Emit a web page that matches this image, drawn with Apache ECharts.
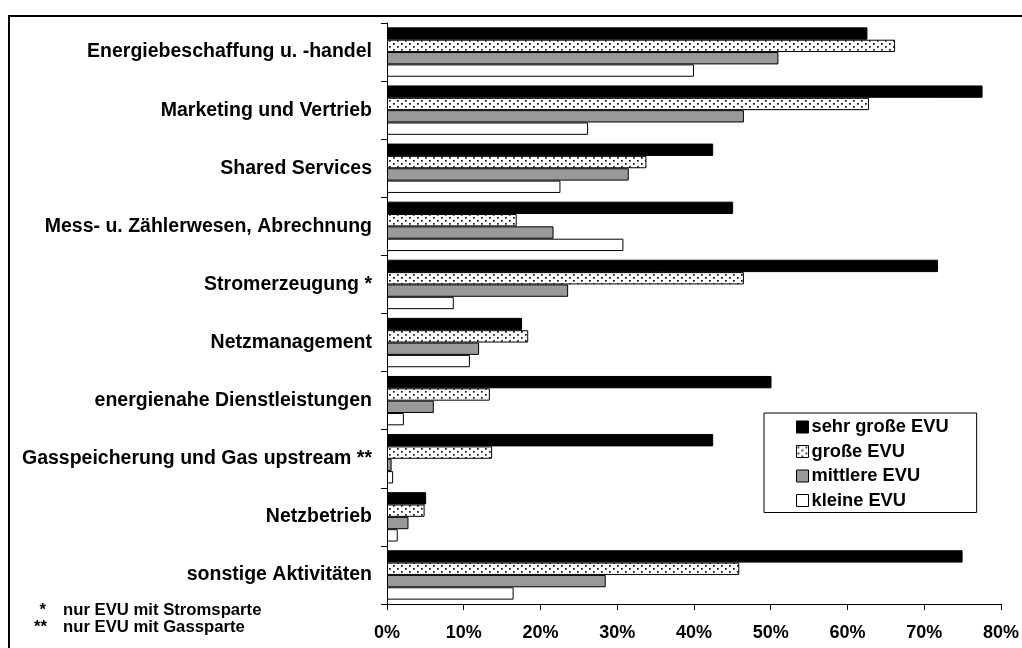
<!DOCTYPE html>
<html>
<head>
<meta charset="utf-8">
<script src="https://cdn.jsdelivr.net/npm/echarts@6/dist/echarts.min.js"></script>
<style>
  html, body { margin: 0; padding: 0; background: #fff; }
  #chart { width: 1022px; height: 648px; }
</style>
</head>
<body>
<div id="chart"></div>
<script>
// Kategorien (von oben nach unten)
const categories = [
  'Energiebeschaffung u. -handel',
  'Marketing und Vertrieb',
  'Shared Services',
  'Mess- u. Zählerwesen, Abrechnung',
  'Stromerzeugung *',
  'Netzmanagement',
  'energienahe Dienstleistungen',
  'Gasspeicherung und Gas upstream **',
  'Netzbetrieb',
  'sonstige Aktivitäten'
]

// Werte in %
const sehrGrosse = [62.6, 77.6, 42.5, 45.1, 71.8, 17.6, 50.1, 42.5, 5.1, 75.0]
const grosse = [66.2, 62.8, 33.8, 16.9, 46.5, 18.4, 13.4, 13.7, 4.9, 45.9]
const mittlere = [51.0, 46.5, 31.5, 21.7, 23.6, 12.0, 6.1, 0.6, 2.8, 28.5]
const kleine = [40.0, 26.2, 22.6, 30.8, 8.7, 10.8, 2.2, 0.8, 1.4, 16.5]

const seriesNames = ['sehr große EVU', 'große EVU', 'mittlere EVU', 'kleine EVU']
const xTicks = [0, 10, 20, 30, 40, 50, 60, 70, 80]

const font = '"Liberation Sans", Arial, sans-serif'

// Punktmuster für "große EVU"
const makeDots = () => {
  const c = document.createElement('canvas')
  c.width = 8
  c.height = 6
  const ctx = c.getContext('2d')
  ctx.fillStyle = '#fff'
  ctx.fillRect(0, 0, 8, 6)
  ctx.fillStyle = '#111'
  ctx.fillRect(1, 1, 1.7, 1.7)
  ctx.fillRect(5, 4, 1.7, 1.7)
  return c
}
const dots = makeDots()

const chart = echarts.init(document.getElementById('chart'), null, { renderer: 'canvas' })

const barStyle = (color) => ({
  color,
  borderColor: '#000',
  borderWidth: 1
})

chart.setOption({
  animation: false,
  backgroundColor: '#fff',
  grid: {
    left: 387,
    right: 16,
    top: 23,
    bottom: 44
  },
  legend: {
    orient: 'vertical',
    left: 764,
    top: 413,
    padding: [5, 28, 3, 32],
    itemGap: 6.5,
    itemWidth: 12,
    itemHeight: 12,
    icon: 'rect',
    backgroundColor: '#fff',
    borderColor: '#000',
    borderWidth: 1,
    borderRadius: 0,
    itemStyle: { borderColor: '#000', borderWidth: 1 },
    textStyle: {
      fontFamily: font,
      fontWeight: 'bold',
      fontSize: 18.3,
      lineHeight: 18,
      color: '#000',
      padding: [0, 0, 0, -2]
    },
    data: seriesNames
  },
  xAxis: {
    type: 'value',
    min: xTicks[0],
    max: xTicks[xTicks.length - 1],
    interval: 10,
    splitLine: { show: false },
    axisLine: { show: true, lineStyle: { color: '#000', width: 1 } },
    axisTick: { show: true, length: 6, lineStyle: { color: '#000' } },
    axisLabel: {
      formatter: '{value}%',
      margin: 20,
      fontFamily: font,
      fontWeight: 'bold',
      fontSize: 18,
      color: '#000'
    }
  },
  yAxis: {
    type: 'category',
    inverse: true,
    data: categories,
    axisLine: { show: true, lineStyle: { color: '#000', width: 1 } },
    axisTick: { show: true, length: 6, lineStyle: { color: '#000' } },
    axisLabel: {
      margin: 15,
      fontFamily: font,
      fontWeight: 'bold',
      fontSize: 19.5,
      color: '#000'
    }
  },
  series: [
    {
      name: seriesNames[0],
      type: 'bar',
      data: sehrGrosse,
      barGap: '0%',
      barCategoryGap: '15%',
      itemStyle: barStyle('#000')
    },
    {
      name: seriesNames[1],
      type: 'bar',
      data: grosse,
      itemStyle: barStyle({ image: dots, repeat: 'repeat' })
    },
    {
      name: seriesNames[2],
      type: 'bar',
      data: mittlere,
      itemStyle: barStyle('#999999')
    },
    {
      name: seriesNames[3],
      type: 'bar',
      data: kleine,
      itemStyle: barStyle('#fff')
    }
  ],
  graphic: [
    // Rahmen
    {
      type: 'rect',
      shape: { x: 9, y: 16, width: 1300, height: 1000 },
      style: { fill: 'none', stroke: '#000', lineWidth: 2 },
      silent: true
    },
    // Fußnoten
    {
      type: 'text',
      x: 46, y: 610,
      style: {
        text: '*',
        textAlign: 'right',
        textVerticalAlign: 'middle',
        font: 'bold 16.7px ' + font,
        fill: '#000'
      }
    },
    {
      type: 'text',
      x: 63, y: 610,
      style: {
        text: 'nur EVU mit Stromsparte',
        textAlign: 'left',
        textVerticalAlign: 'middle',
        font: 'bold 16.7px ' + font,
        fill: '#000'
      }
    },
    {
      type: 'text',
      x: 47, y: 627,
      style: {
        text: '**',
        textAlign: 'right',
        textVerticalAlign: 'middle',
        font: 'bold 16.7px ' + font,
        fill: '#000'
      }
    },
    {
      type: 'text',
      x: 63, y: 627,
      style: {
        text: 'nur EVU mit Gassparte',
        textAlign: 'left',
        textVerticalAlign: 'middle',
        font: 'bold 16.7px ' + font,
        fill: '#000'
      }
    }
  ]
})

window.addEventListener('resize', () => chart.resize())
</script>
</body>
</html>
